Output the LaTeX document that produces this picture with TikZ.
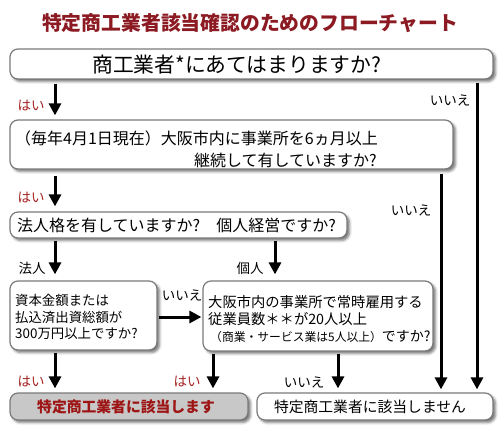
\documentclass[tikz,border=0pt]{standalone}
\usepackage{fontspec}
\newfontfamily\jp{Noto Sans CJK JP}
\usetikzlibrary{arrows.meta,shadows.blur}
\definecolor{ttl}{HTML}{8C1A22}
\definecolor{yes}{HTML}{A52222}
\definecolor{bx}{HTML}{7A7A7A}
\definecolor{gfill}{HTML}{C8C8C8}
\definecolor{hit}{HTML}{9E1515}
\tikzset{
  box/.style={draw=bx, line width=1.2pt, rounded corners=8pt, fill=white, inner sep=0pt,
    blur shadow={shadow xshift=2.5pt, shadow yshift=-2.5pt, shadow blur radius=2.5pt, shadow opacity=55}},
  txt/.style={inner sep=0pt, font=\jp\fontsize{16}{18}\selectfont},
  lbl/.style={inner sep=0pt, font=\jp\fontsize{13.5}{15}\selectfont},
  yeslbl/.style={lbl, text=yes},
  arr/.style={line width=3pt, -{Triangle[width=12pt,length=12pt]}},
  ln/.style={line width=3pt}
}
\begin{document}
\begin{tikzpicture}[x=1pt,y=-1pt]
\useasboundingbox (0,0) rectangle (500,441);
% title
\node[inner sep=0pt, font=\jp\bfseries\fontsize{19.8}{22}\selectfont, text=ttl] (title) at (250,23) {特定商工業者該当確認のためのフローチャート};
% boxes
\node[box, minimum width=483pt, minimum height=30pt] (b1) at (251.5,64) {};
\node[box, minimum width=443pt, minimum height=49pt] (b2) at (231.5,144.5) {};
\node[box, minimum width=337pt, minimum height=26pt] (b3) at (178.5,225) {};
\node[box, minimum width=147pt, minimum height=69pt] (b4) at (83.5,315.5) {};
\node[box, minimum width=230pt, minimum height=70pt] (b5) at (318,316) {};
\node[box, fill=gfill, minimum width=238pt, minimum height=27pt] (b6) at (129,406.5) {};
\node[box, minimum width=236pt, minimum height=27pt] (b7) at (375,406.5) {};
% texts
\node[txt, font=\jp\fontsize{20.8}{22}\selectfont, anchor=west] (t1) at (92,65) {商工業者*にあてはまりますか?};
\node[txt, anchor=west] (t2a) at (15,138) {（毎年4月1日現在）大阪市内に事業所を6ヵ月以上};
\node[txt, anchor=east] (t2b) at (377,160) {継続して有していますか?};
\node[txt, anchor=west] (t3) at (17,225) {法人格を有していますか?　個人経営ですか?};
\node[txt, font=\jp\fontsize{13.4}{16.8}\selectfont, anchor=west, align=left] (t4) at (15,317) {資本金額または\\払込済出資総額が\\300万円以上ですか?};
\node[txt, font=\jp\fontsize{14.3}{16}\selectfont, anchor=west] (t5a) at (208,302) {大阪市内の事業所で常時雇用する};
\node[txt, font=\jp\fontsize{14.3}{16}\selectfont, anchor=west] (t5b) at (208,319) {従業員数＊＊が20人以上};
\node[txt, font=\jp\fontsize{14}{16}\selectfont, anchor=west] (t5c) at (210,337) {{\fontsize{11.8}{14}\selectfont（商業・サービス業は5人以上）}ですか?};
\node[txt, font=\jp\bfseries\fontsize{14.8}{16}\selectfont, text=hit] (t6) at (126,406.5) {特定商工業者に該当します};
\node[txt, font=\jp\fontsize{14.8}{16}\selectfont] (t7) at (370,406.5) {特定商工業者に該当しません};
% labels
\node[yeslbl] (y1) at (31,106) {はい};
\node[lbl] (n1) at (450,100) {いいえ};
\node[yeslbl] (y2) at (31,198) {はい};
\node[lbl] (n2) at (411,210) {いいえ};
\node[lbl] (l1) at (32,268) {法人};
\node[lbl] (l2) at (250,268) {個人};
\node[lbl] (n3) at (182,295) {いいえ};
\node[yeslbl] (y3) at (31,382) {はい};
\node[yeslbl] (y4) at (187,382) {はい};
\node[lbl] (n4) at (304,382) {いいえ};
% connectors
\draw[arr, shorten <=4pt, shorten >=4pt] (55,0 |- b1.south) -- (55,0 |- b2.north);
\draw[arr, shorten <=3pt, shorten >=3pt] (477,0 |- b1.south) -- (477,0 |- b7.north);
\draw[arr, shorten <=6pt, shorten >=5pt] (55,0 |- b2.south) -- (55,0 |- b3.north);
\draw[arr, shorten <=4pt, shorten >=3pt] (441,0 |- b2.south) -- (441,0 |- b7.north);
\draw[arr, shorten <=2pt, shorten >=6pt] (55,0 |- b3.south) -- (55,0 |- b4.north);
\draw[arr, shorten <=2pt, shorten >=6pt] (275,0 |- b3.south) -- (275,0 |- b5.north);
\draw[arr, shorten <=1pt, shorten >=1pt] (b4.east |- 0,317) -- (b5.west |- 0,317);
\draw[arr, shorten <=2pt, shorten >=4pt] (55,0 |- b4.south) -- (55,0 |- b6.north);
\draw[arr, shorten <=2pt, shorten >=4pt] (213,0 |- b5.south) -- (213,0 |- b6.north);
\draw[arr, shorten <=2pt, shorten >=4pt] (338,0 |- b5.south) -- (338,0 |- b7.north);
\end{tikzpicture}
\end{document}
